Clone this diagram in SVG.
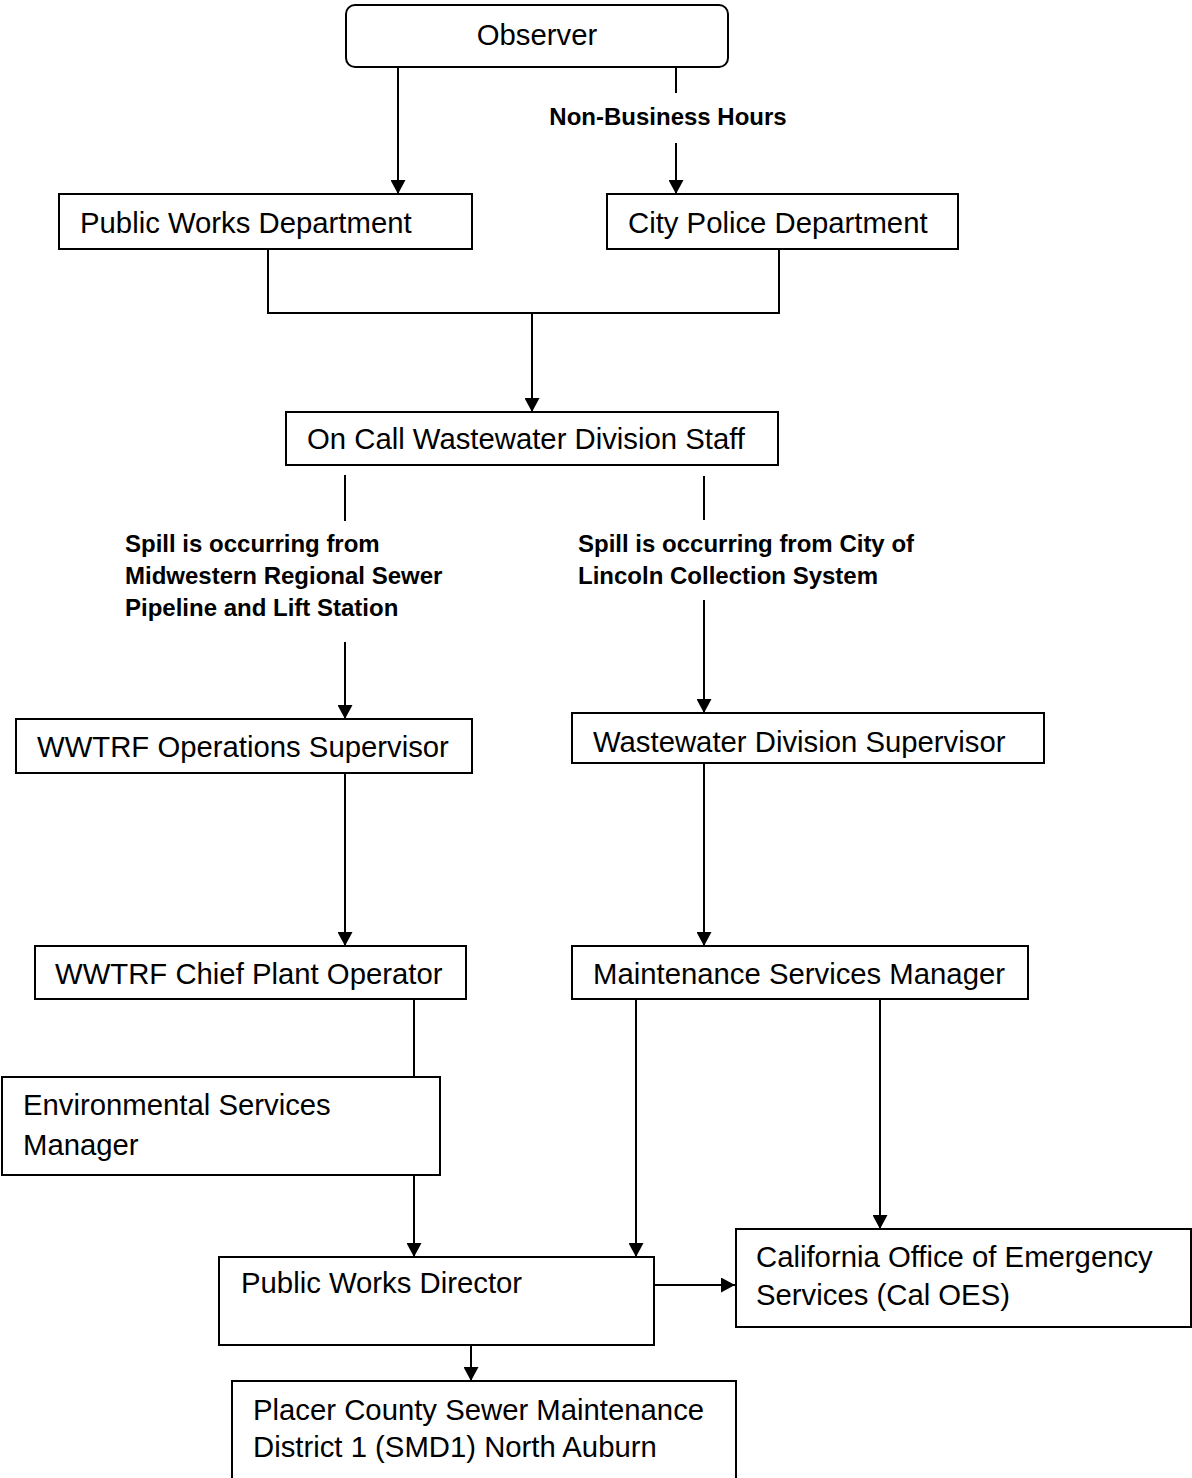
<svg xmlns="http://www.w3.org/2000/svg" width="1192" height="1478" viewBox="0 0 1192 1478">
<defs>
<style>
.box{fill:#fff;stroke:#000;stroke-width:2}
.t{font-family:"Liberation Sans",Arial,sans-serif;font-size:29.3px;fill:#000}
.lb{font-family:"Liberation Sans",Arial,sans-serif;font-size:24px;font-weight:bold;fill:#000}
.c{fill:none;stroke:#000;stroke-width:2}
</style>
<marker id="ah" markerUnits="userSpaceOnUse" viewBox="0 0 14 15" refX="14" refY="7.5" markerWidth="14" markerHeight="15" orient="auto">
<path d="M0,0 L14,7.5 L0,15 z" fill="#000"/>
</marker>
</defs>
<rect width="1192" height="1478" fill="#fff"/>

<g id="connectors">
<line class="c" x1="398" y1="67" x2="398" y2="194" marker-end="url(#ah)"/>
<line class="c" x1="676" y1="68" x2="676" y2="93"/>
<line class="c" x1="676" y1="143" x2="676" y2="194" marker-end="url(#ah)"/>
<polyline class="c" points="268,249 268,313 779,313 779,249"/>
<line class="c" x1="532" y1="313" x2="532" y2="412" marker-end="url(#ah)"/>
<line class="c" x1="345" y1="475" x2="345" y2="521"/>
<line class="c" x1="345" y1="642" x2="345" y2="719" marker-end="url(#ah)"/>
<line class="c" x1="704" y1="476" x2="704" y2="520"/>
<line class="c" x1="704" y1="600" x2="704" y2="713" marker-end="url(#ah)"/>
<line class="c" x1="345" y1="773" x2="345" y2="946" marker-end="url(#ah)"/>
<line class="c" x1="704" y1="763" x2="704" y2="946" marker-end="url(#ah)"/>
<line class="c" x1="414" y1="999" x2="414" y2="1077"/>
<line class="c" x1="414" y1="1175" x2="414" y2="1257" marker-end="url(#ah)"/>
<line class="c" x1="636" y1="999" x2="636" y2="1257" marker-end="url(#ah)"/>
<line class="c" x1="880" y1="999" x2="880" y2="1229" marker-end="url(#ah)"/>
<line class="c" x1="654" y1="1285" x2="735" y2="1285" marker-end="url(#ah)"/>
<line class="c" x1="471" y1="1345" x2="471" y2="1381" marker-end="url(#ah)"/>
<text class="lb" x="668" y="125" text-anchor="middle">Non-Business Hours</text>
<text class="lb" x="125" y="552">Spill is occurring from</text>
<text class="lb" x="125" y="584">Midwestern Regional Sewer</text>
<text class="lb" x="125" y="616">Pipeline and Lift Station</text>
<text class="lb" x="578" y="552">Spill is occurring from City of</text>
<text class="lb" x="578" y="584">Lincoln Collection System</text>
</g>

<g id="observer">
<rect class="box" x="346" y="5" width="382" height="62" rx="9"/>
<text class="t" x="537" y="45" text-anchor="middle">Observer</text>
</g>
<g id="public-works-department">
<rect class="box" x="59" y="194" width="413" height="55"/>
<text class="t" x="80" y="233">Public Works Department</text>
</g>
<g id="city-police-department">
<rect class="box" x="607" y="194" width="351" height="55"/>
<text class="t" x="628" y="233">City Police Department</text>
</g>
<g id="on-call-staff">
<rect class="box" x="286" y="412" width="492" height="53"/>
<text class="t" x="307" y="449">On Call Wastewater Division Staff</text>
</g>
<g id="wwtrf-operations-supervisor">
<rect class="box" x="16" y="719" width="456" height="54"/>
<text class="t" x="37" y="757">WWTRF Operations Supervisor</text>
</g>
<g id="wastewater-division-supervisor">
<rect class="box" x="572" y="713" width="472" height="50"/>
<text class="t" x="593" y="752">Wastewater Division Supervisor</text>
</g>
<g id="wwtrf-chief-plant-operator">
<rect class="box" x="35" y="946" width="431" height="53"/>
<text class="t" x="55" y="984">WWTRF Chief Plant Operator</text>
</g>
<g id="maintenance-services-manager">
<rect class="box" x="572" y="946" width="456" height="53"/>
<text class="t" x="593" y="984">Maintenance Services Manager</text>
</g>
<g id="environmental-services-manager">
<rect class="box" x="2" y="1077" width="438" height="98"/>
<text class="t" x="23" y="1115">Environmental Services</text>
<text class="t" x="23" y="1155">Manager</text>
</g>
<g id="public-works-director">
<rect class="box" x="219" y="1257" width="435" height="88"/>
<text class="t" x="241" y="1293">Public Works Director</text>
</g>
<g id="cal-oes">
<rect class="box" x="736" y="1229" width="455" height="98"/>
<text class="t" x="756" y="1267">California Office of Emergency</text>
<text class="t" x="756" y="1305">Services (Cal OES)</text>
</g>
<g id="placer-county-smd1">
<rect class="box" x="232" y="1381" width="504" height="100"/>
<text class="t" x="253" y="1420">Placer County Sewer Maintenance</text>
<text class="t" x="253" y="1457">District 1 (SMD1) North Auburn</text>
</g>
</svg>
